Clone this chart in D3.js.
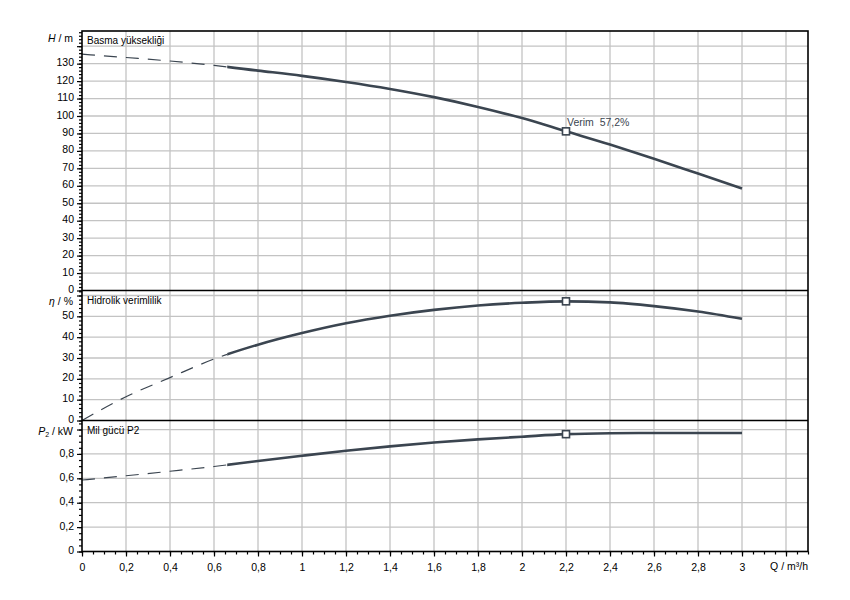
<!DOCTYPE html>
<html>
<head>
<meta charset="utf-8">
<script src="https://cdn.jsdelivr.net/npm/d3@7/dist/d3.min.js"></script>
<style>
  html, body { margin: 0; padding: 0; background: #fff; }
  svg text { font-family: "Liberation Sans", Arial, sans-serif; }
</style>
</head>
<body>
<svg id="chart" width="850" height="600"></svg>
<script>
// ---------------- DATA ----------------
const flowQ = [0, 0.2, 0.4, 0.6, 0.8, 1.0, 1.2, 1.4, 1.6, 1.8, 2.0, 2.2, 2.4, 2.6, 2.8, 3.0];
const headH = [135.4, 133.5, 131.5, 129, 126, 123, 119.5, 115.5, 110.8, 105.2, 98.8, 91.2, 83.6, 75.5, 67, 58.5];
const efficiency = [0, 11.4, 20.6, 29.5, 36.4, 42, 46.7, 50.3, 53.1, 55.2, 56.5, 57.2, 56.7, 54.9, 52.3, 48.8];
const powerP2 = [0.586, 0.621, 0.658, 0.697, 0.742, 0.785, 0.826, 0.862, 0.893, 0.919, 0.941, 0.962, 0.97, 0.972, 0.972, 0.972];
const minOperatingQ = 0.66;     // below this the curves are dashed
const dutyQ = 2.2;
const dutyEfficiencyLabel = "Verim\u00a0 57,2%";

const xTicks = [0, 0.2, 0.4, 0.6, 0.8, 1, 1.2, 1.4, 1.6, 1.8, 2, 2.2, 2.4, 2.6, 2.8, 3];
const xGrid = [0.2, 0.4, 0.6, 0.8, 1, 1.2, 1.4, 1.6, 1.8, 2, 2.2, 2.4, 2.6, 2.8, 3, 3.2];
const hTicks = [0, 10, 20, 30, 40, 50, 60, 70, 80, 90, 100, 110, 120, 130];
const hGrid = [10, 20, 30, 40, 50, 60, 70, 80, 90, 100, 110, 120, 130, 140];
const eTicks = [0, 10, 20, 30, 40, 50];
const eGrid = [10, 20, 30, 40, 50, 60];
const pTicks = [0, 0.2, 0.4, 0.6, 0.8];
const pGrid = [0.2, 0.4, 0.6, 0.8, 1.0];

// ---------------- LAYOUT ----------------
const svg = d3.select("#chart");
const left = 82, right = 808;
const x = d3.scaleLinear().domain([0, 3.3]).range([left, right]);

const panels = [
  { key: "H", top: 31, bottom: 290.5, domain: [0, 148.7], values: headH, ticks: hTicks, grid: hGrid, minorStep: 2,
    title: "Basma yüksekliği" },
  { key: "E", top: 290.5, bottom: 420.5, domain: [0, 62.4], values: efficiency, ticks: eTicks, grid: eGrid, minorStep: 2,
    title: "Hidrolik verimlilik" },
  { key: "P", top: 420.5, bottom: 551.5, domain: [0, 1.074], values: powerP2, ticks: pTicks, grid: pGrid, minorStep: 0.05,
    title: "Mil gücü P2" }
];
panels.forEach(p => { p.y = d3.scaleLinear().domain(p.domain).range([p.bottom, p.top]); });

const fmt = v => String(+v.toFixed(2)).replace(".", ",");
const curveColor = "#3b4550";
const gridColor = "#c3c3c3";

// gridlines
panels.forEach(p => {
  const g = svg.append("g");
  g.selectAll("line.h").data(p.grid).enter().append("line")
    .attr("x1", left).attr("x2", right)
    .attr("y1", d => p.y(d)).attr("y2", d => p.y(d))
    .attr("stroke", gridColor).attr("stroke-width", 1.3);
  g.selectAll("line.v").data(xGrid).enter().append("line")
    .attr("x1", d => x(d)).attr("x2", d => x(d))
    .attr("y1", p.top).attr("y2", p.bottom)
    .attr("stroke", gridColor).attr("stroke-width", 1.3);
});

// clip paths for dashed / solid segments
const defs = svg.append("defs");
defs.append("clipPath").attr("id", "clipDash").append("rect")
  .attr("x", 0).attr("y", 0).attr("width", x(minOperatingQ)).attr("height", 600);
defs.append("clipPath").attr("id", "clipSolid").append("rect")
  .attr("x", x(minOperatingQ)).attr("y", 0).attr("width", 850).attr("height", 600);

// curves
panels.forEach(p => {
  const pts = flowQ.map((q, i) => [q, p.values[i]]);
  const line = d3.line().x(d => x(d[0])).y(d => p.y(d[1])).curve(d3.curveMonotoneX);
  svg.append("path").attr("d", line(pts)).attr("fill", "none")
    .attr("stroke", curveColor).attr("stroke-width", 1.2)
    .attr("stroke-dasharray", "13,9").attr("clip-path", "url(#clipDash)");
  svg.append("path").attr("d", line(pts)).attr("fill", "none")
    .attr("stroke", curveColor).attr("stroke-width", 2.6)
    .attr("clip-path", "url(#clipSolid)");
  // duty point marker
  const idx = flowQ.indexOf(dutyQ);
  svg.append("rect")
    .attr("x", x(dutyQ) - 3.5).attr("y", p.y(p.values[idx]) - 3.5)
    .attr("width", 7).attr("height", 7)
    .attr("fill", "#fff").attr("stroke", curveColor).attr("stroke-width", 1.6);
  if (p.key === "H") {
    svg.append("text").attr("x", x(dutyQ) + 1).attr("y", p.y(p.values[idx]) - 5)
      .attr("font-size", 10.5).attr("fill", "#3b4550").text(dutyEfficiencyLabel);
  }
});

// y axes (major + minor ticks)
panels.forEach(p => {
  const minor = d3.range(p.domain[0], p.domain[1] + 1e-9, p.minorStep);
  const gMinor = svg.append("g").attr("transform", `translate(${left},0)`)
    .call(d3.axisLeft(p.y).tickValues(minor).tickSize(3).tickFormat(""));
  gMinor.select(".domain").remove();
  const majors = p.grid.concat([0]);
  const gMajor = svg.append("g").attr("transform", `translate(${left},0)`)
    .call(d3.axisLeft(p.y).tickValues(majors).tickSize(5).tickPadding(3)
      .tickFormat(d => p.ticks.includes(d) ? fmt(d) : ""));
  gMajor.select(".domain").remove();
  [gMinor, gMajor].forEach(g => g.selectAll("line").attr("stroke", "#000").attr("stroke-width", 1.2));
  gMajor.selectAll("text").attr("font-size", 10.5).attr("fill", "#000").attr("dy", "0.2em")
    .attr("font-family", "Liberation Sans, Arial, sans-serif");
  // panel title
  svg.append("text").attr("x", left + 5).attr("y", p.top + 13)
    .attr("font-size", 10).attr("fill", "#000").text(p.title);
});

// x axis
const xMinor = d3.range(0, 3.3 + 1e-9, 0.05);
const gxMinor = svg.append("g").attr("transform", `translate(0,551.5)`)
  .call(d3.axisBottom(x).tickValues(xMinor).tickSize(3).tickFormat(""));
gxMinor.select(".domain").remove();
const gxMajor = svg.append("g").attr("transform", `translate(0,551.5)`)
  .call(d3.axisBottom(x).tickValues(xTicks.concat([3.2])).tickSize(5).tickPadding(7)
    .tickFormat(d => xTicks.includes(d) ? fmt(d) : ""));
gxMajor.select(".domain").remove();
[gxMinor, gxMajor].forEach(g => g.selectAll("line").attr("stroke", "#000").attr("stroke-width", 1.2));
gxMajor.selectAll("text").attr("font-size", 10.5).attr("fill", "#000")
  .attr("font-family", "Liberation Sans, Arial, sans-serif");

// borders
const border = svg.append("g").attr("stroke", "#000").attr("stroke-width", 1.6).attr("fill", "none");
border.append("rect").attr("x", left).attr("y", 31).attr("width", right - left).attr("height", 551.5 - 31);
border.append("line").attr("x1", left).attr("x2", right).attr("y1", 290.5).attr("y2", 290.5);
border.append("line").attr("x1", left).attr("x2", right).attr("y1", 420.5).attr("y2", 420.5);

// axis unit labels
const unit = svg.append("g").attr("font-size", 10.5).attr("fill", "#000");
const tH = unit.append("text").attr("x", 73).attr("y", 42).attr("text-anchor", "end");
tH.append("tspan").attr("font-style", "italic").text("H");
tH.append("tspan").text(" / m");
const tE = unit.append("text").attr("x", 73).attr("y", 305).attr("text-anchor", "end");
tE.append("tspan").attr("font-style", "italic").text("η");
tE.append("tspan").text(" / %");
const tP = unit.append("text").attr("x", 73).attr("y", 435).attr("text-anchor", "end");
tP.append("tspan").attr("font-style", "italic").text("P");
tP.append("tspan").attr("font-size", 7).attr("dy", 2).text("2");
tP.append("tspan").attr("dy", -2).text(" / kW");
unit.append("text").attr("x", 808).attr("y", 570).attr("text-anchor", "end").text("Q / m³/h");
</script>
</body>
</html>
